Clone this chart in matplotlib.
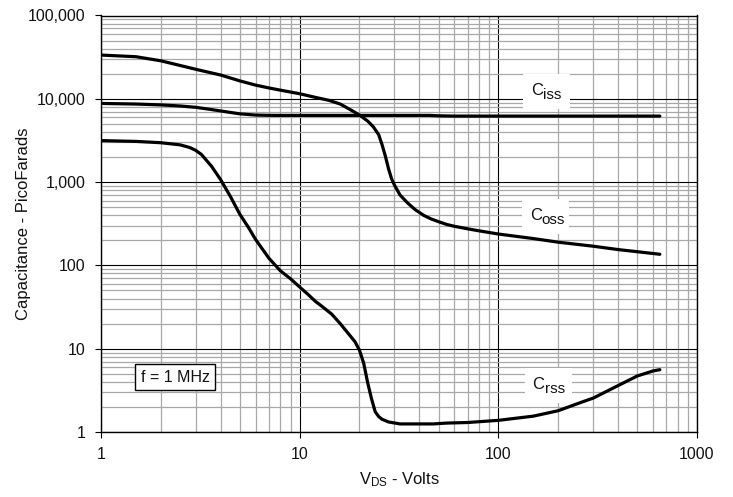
import matplotlib
matplotlib.use("Agg")
import matplotlib.pyplot as plt
import matplotlib.transforms as mtransforms
from matplotlib.patches import Rectangle
from matplotlib.ticker import LogLocator, FuncFormatter, NullFormatter

plt.rcParams['font.family'] = ['Liberation Sans', 'DejaVu Sans']
plt.rcParams['mathtext.fontset'] = 'custom'
plt.rcParams['mathtext.rm'] = 'Liberation Sans'
plt.rcParams['mathtext.it'] = 'Liberation Sans:italic'
plt.rcParams['mathtext.bf'] = 'Liberation Sans:bold'

# Output capacitance vs drain-source voltage
coss_v = [1, 1.5, 2, 3, 4, 5, 6, 7, 8, 10, 12, 14, 16, 18, 20, 22, 23.5, 25, 26,
          27, 28, 29, 30, 32, 35, 38, 42, 46, 50, 55, 60, 70, 80, 100, 150, 200,
          300, 400, 500, 600, 650]
coss_pf = [33500, 32000, 28600, 22600, 19300, 16400, 14600, 13500, 12700, 11500,
           10400, 9600, 8650, 7400, 6380, 5400, 4600, 3700, 2800, 2050, 1450, 1100,
           920, 700, 560, 470, 400, 360, 335, 310, 295, 275, 260, 238, 210, 190,
           170, 155, 146, 139, 136]

# Input capacitance
ciss_v = [1, 1.5, 2, 2.5, 3, 3.5, 4, 4.5, 5, 6, 7, 8, 10, 20, 30, 45, 50, 60, 100,
          300, 650]
ciss_pf = [8800, 8650, 8450, 8200, 7900, 7500, 7150, 6850, 6600, 6380, 6330, 6320,
           6320, 6320, 6320, 6320, 6250, 6200, 6200, 6200, 6200]

# Reverse transfer capacitance
crss_v = [1, 1.5, 2, 2.5, 2.8, 3, 3.2, 3.6, 4, 4.5, 5, 5.5, 6, 7, 8, 9, 10, 11, 12,
          13, 14.5, 16, 17.5, 19, 20, 21, 22, 23, 24, 25, 26, 28, 32, 40, 47, 55,
          70, 100, 150, 200, 265, 300, 400, 500, 600, 650]
crss_pf = [3150, 3080, 2970, 2800, 2600, 2400, 2150, 1550, 1070, 660, 410, 290, 205,
           122, 86, 69, 55, 45, 37, 32, 26, 20, 15.4, 12.1, 9.6, 6.7, 3.9, 2.5, 1.75,
           1.53, 1.42, 1.32, 1.25, 1.25, 1.25, 1.28, 1.3, 1.38, 1.55, 1.8, 2.3, 2.55,
           3.6, 4.7, 5.4, 5.6]

x_ticks = [1, 10, 100, 1000]
y_ticks = [1, 10, 100, 1000, 10000, 100000]

# Curve labels: (subscript, anchor voltage, anchor capacitance)
curve_labels = [('iss', 174, 12400), ('oss', 172, 392), ('rss', 178, 3.67)]

fig = plt.figure(figsize=(7.33, 4.97), dpi=100)
ax = fig.add_axes([101 / 733, 1 - 432 / 497, (697 - 101) / 733, (432 - 15.5) / 497])
ax.set_xscale('log')
ax.set_yscale('log')
ax.set_xlim(1, 1000)
ax.set_ylim(1, 100000)

ax.xaxis.set_minor_locator(LogLocator(base=10, subs=range(2, 10)))
ax.yaxis.set_minor_locator(LogLocator(base=10, subs=range(2, 10)))
ax.set_xticks(x_ticks)
ax.set_yticks(y_ticks)
ax.xaxis.set_major_formatter(FuncFormatter(lambda v, p: f"{v:.0f}"))
ax.yaxis.set_major_formatter(FuncFormatter(lambda v, p: f"{v:,.0f}"))
ax.xaxis.set_minor_formatter(NullFormatter())
ax.yaxis.set_minor_formatter(NullFormatter())
ax.tick_params(which='major', direction='out', length=4, width=0.8, labelsize=11.5,
               pad=7, color='black', labelcolor='#111111')
ax.tick_params(which='minor', length=0)

ax.grid(which='minor', color='#a8a8a8', lw=0.9)
ax.grid(which='major', color='black', lw=0.8)
ax.set_axisbelow(True)
for s in ax.spines.values():
    s.set_color('black')
    s.set_linewidth(1.0)

for v, c in ((coss_v, coss_pf), (ciss_v, ciss_pf), (crss_v, crss_pf)):
    ax.plot(v, c, color='black', lw=2.3, solid_capstyle='round', zorder=3)

for sub, xv, yv in curve_labels:
    # white patch (sized in inches) centred on the label anchor
    anchor = fig.dpi_scale_trans + mtransforms.ScaledTranslation(xv, yv, ax.transData)
    ax.add_patch(Rectangle((-0.235, -0.18), 0.47, 0.35, transform=anchor,
                           facecolor='white', edgecolor='none', zorder=4,
                           clip_on=False))
    ax.annotate('C', (xv, yv), xytext=(-2.5, 0.5), textcoords='offset points',
                ha='right', va='center', fontsize=12, color='#111111', zorder=5)
    ax.annotate(sub, (xv, yv), xytext=(-2.5, -3), textcoords='offset points',
                ha='left', va='center', fontsize=11, color='#111111', zorder=5)

ax.text(2.37, 4.57, 'f = 1 MHz', ha='center', va='center', fontsize=11.5,
        color='#111111',
        bbox=dict(boxstyle='square,pad=0.35', facecolor='white', edgecolor='black',
                  linewidth=1.0), zorder=4)

ax.set_xlabel(r'V$_{\mathrm{DS}}$ - Volts', fontsize=12, labelpad=6, color='#111111')
ax.set_ylabel('Capacitance - PicoFarads', fontsize=12, labelpad=-2, color='#111111')

fig.savefig('out.png', dpi=100)
